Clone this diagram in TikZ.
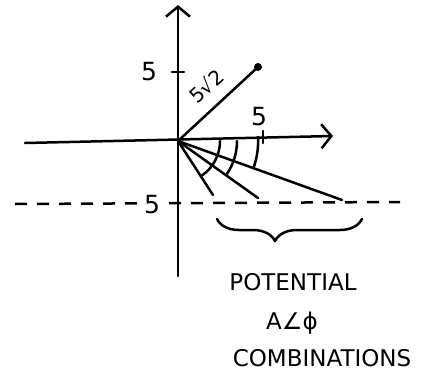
\documentclass[tikz,border=0pt]{standalone}
\usepackage{fontspec}
\setmainfont{DejaVu Sans}
\usetikzlibrary{arrows.meta,decorations.pathreplacing,calc}
\begin{document}
\begin{tikzpicture}[x=1pt,y=-1pt, line width=2.5pt, line cap=round, line join=round,
  axis/.style={-{Straight Barb[length=10pt,width=24pt]}},
  lbl/.style={font=\fontsize{25}{27}\selectfont, inner sep=0pt},
  txt/.style={font=\fontsize{23}{26}\selectfont, inner sep=0pt},
  dashline/.style={dash pattern=on 12pt off 10pt, line cap=butt}]
\useasboundingbox (0,0) rectangle (433,383);
\fill[white] (0,0) rectangle (433,383);
% origin and axes
\coordinate (O) at (178,141);
\coordinate (ytop) at (178,5);
\coordinate (ybot) at (178,276);
\coordinate (xl) at (25,143);
\coordinate (xr) at (333,136);
\draw[axis] (ybot) -- (ytop);
\draw[axis] (xl) -- (xr);
% ticks
\coordinate (yt1) at (172,72);
\coordinate (yt2) at (184,72);
\draw (yt1) -- (yt2);
\coordinate (xt1) at (263,131);
\coordinate (xt2) at (263,143);
\draw (xt1) -- (xt2);
\node[lbl] (y5) at (149,72) {5};
\node[lbl] (x5) at (259,117) {5};
% vector to point
\coordinate (P) at (258,67);
\draw (O) -- (P);
\fill (P) circle (4);
\node[inner sep=0pt, rotate=42, font=\fontsize{20}{22}\selectfont] (r52) at (206,86) {5√2};
% dashed line at -5
\coordinate (dl) at (15,204);
\coordinate (dr) at (400,202);
\draw[dashline] (dl) -- (dr);
\node[lbl, fill=white, inner sep=1pt] (m5) at (152,205) {5};
% rays
\coordinate (R1) at (213,195);
\coordinate (R2) at (258,198);
\coordinate (R3) at (342,200);
\draw (O) -- (R1);
\draw (O) -- (R2);
\draw (O) -- (R3);
% arcs
\draw ($(O)+(42,0)$) arc[start angle=0, end angle=55, radius=42];
\draw ($(O)+(59,0)$) arc[start angle=0, end angle=35, radius=59];
\draw ($(O)+(80,-4)$) arc[start angle=-3, end angle=19, radius=80];
% brace
\coordinate (b1) at (217,219);
\coordinate (b2) at (362,219);
\draw[decorate, decoration={brace, mirror, amplitude=22pt, aspect=0.4}] (b1) -- (b2);
% text
\node[txt] (t1) at (293,282) {POTENTIAL};
\node[txt] (t2) at (292,323) {A∠ϕ};
\node[txt] (t3) at (322,358) {COMBINATIONS};
\end{tikzpicture}
\end{document}
